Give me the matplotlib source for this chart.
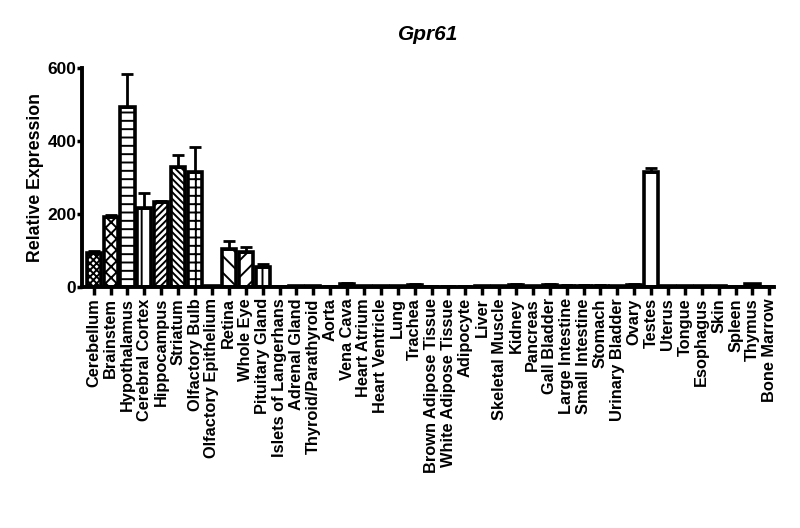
import matplotlib
matplotlib.use("Agg")
import matplotlib.pyplot as plt
import numpy as np

plt.rcParams.update({
    "font.family": ["Liberation Sans", "DejaVu Sans"],
    "font.weight": "bold",
    "hatch.linewidth": 1.4,
})

tissues = ["Cerebellum", "Brainstem", "Hypothalamus", "Cerebral Cortex", "Hippocampus",
           "Striatum", "Olfactory Bulb", "Olfactory Epithelium", "Retina", "Whole Eye",
           "Pituitary Gland", "Islets of Langerhans", "Adrenal Gland", "Thyroid/Parathyroid",
           "Aorta", "Vena Cava", "Heart Atrium", "Heart Ventricle", "Lung", "Trachea",
           "Brown Adipose Tissue", "White Adipose Tissue", "Adipocyte", "Liver",
           "Skeletal Muscle", "Kidney", "Pancreas", "Gall Bladder", "Large Intestine",
           "Small Intestine", "Stomach", "Urinary Bladder", "Ovary", "Testes", "Uterus",
           "Tongue", "Esophagus", "Skin", "Spleen", "Thymus", "Bone Marrow"]
expr = [93, 193, 493, 217, 232, 328, 315, 3, 104, 97,
        54, 1, 3, 3, 1, 8, 2, 2, 2, 6,
        1, 1, 1, 3, 2, 5, 2, 5, 4, 4,
        4, 2, 5, 315, 2, 3, 2, 3, 1, 7, 1]
err = [7, 5, 92, 41, 4, 34, 68, 1, 23, 14,
       9, 0.5, 1, 1, 0.5, 3, 0.5, 0.5, 0.5, 2,
       0.5, 0.5, 0.5, 1, 0.5, 2, 0.5, 2, 1, 1,
       1, 0.5, 2, 12, 0.5, 1, 0.5, 1, 0.5, 2, 0.5]
hatches = ["xxxxx", "xxx", "--", "|", "/////", "\\\\\\\\\\", "++", "", "\\\\", "//",
           "||"] + [""] * 22 + ["|"] + [""] * 7

fig = plt.figure(figsize=(8.0, 5.28), dpi=100)
ax = fig.add_axes([0.103, 0.4564, 0.865, 0.4146])

x = np.arange(len(tissues))
bars = ax.bar(x, expr, 0.84, color="white", edgecolor="black", linewidth=2.6,
              yerr=[np.zeros(len(err)), err], capsize=4,
              error_kw={"elinewidth": 2, "capthick": 2, "ecolor": "black"}, zorder=2)
for b, h in zip(bars, hatches):
    b.set_hatch(h)

ax.set_xlim(-0.67, 40.3)
ax.set_ylim(0, 600)
ax.set_yticks([0, 200, 400, 600])
ax.set_xticks(x)
ax.set_xticklabels(tissues, rotation=90, fontsize=11.8, fontweight="bold")
ax.tick_params(axis="y", labelsize=12.5, width=2.5, length=3.5, pad=1)
ax.tick_params(axis="x", width=2.5, length=6, pad=2)
for lab in ax.get_yticklabels():
    lab.set_fontweight("bold")
for s in ["top", "right"]:
    ax.spines[s].set_visible(False)
for s in ["left", "bottom"]:
    ax.spines[s].set_linewidth(2.8)

ax.set_ylabel("Relative Expression", fontsize=12.8, fontweight="bold", labelpad=2)
ax.set_title("Gpr61", fontsize=15, fontweight="bold", style="italic", pad=20)

fig.savefig("out.png", dpi=100)
